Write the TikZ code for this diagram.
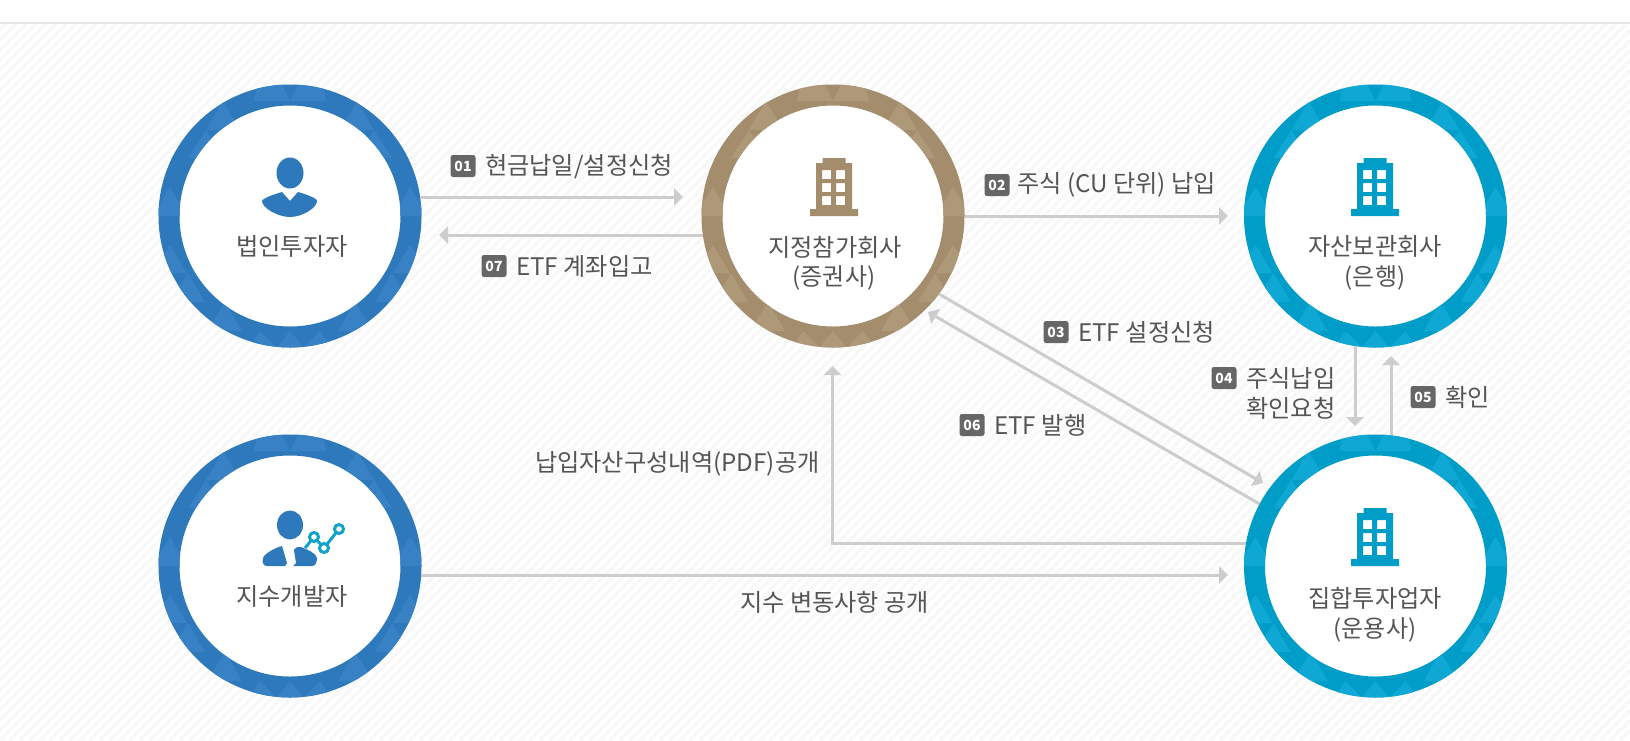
\documentclass[tikz,border=0pt]{standalone}
\usepackage{fontspec}
\setmainfont{Noto Sans CJK KR}
\usetikzlibrary{arrows.meta}
\definecolor{txt}{HTML}{555555}
\definecolor{arrowgray}{HTML}{CDCDCD}
\definecolor{hatchgray}{HTML}{F8F8F8}
\definecolor{topline}{HTML}{E6E6E6}
\definecolor{badgegray}{HTML}{666666}
\definecolor{bluedark}{HTML}{2E78BC}
\definecolor{bluelight}{HTML}{3781C4}
\definecolor{tandark}{HTML}{A38D6D}
\definecolor{tanlight}{HTML}{AD9878}
\definecolor{cyandark}{HTML}{009DC9}
\definecolor{cyanlight}{HTML}{0FA7D3}
\definecolor{chain}{HTML}{12A3C9}
\tikzset{
  x=1pt,y=-1pt,
  ringnode/.style={circle,draw=#1,fill=white,line width=21pt,minimum size=242pt,inner sep=0pt},
  conn/.style={draw=arrowgray,line width=3pt,-{Triangle[length=9pt,width=17pt]}},
  mainlabel/.style={inner sep=0pt,text=txt,font=\fontsize{24.2}{28}\selectfont},
  sublabel/.style={inner sep=0pt,text=txt,font=\fontsize{24}{28}\selectfont},
  arrowlabel/.style={inner sep=0pt,text=txt,anchor=west,font=\fontsize{24.2}{28}\selectfont},
  badge/.style={fill=badgegray,rounded corners=2.5pt,text=white,inner sep=0pt,minimum width=25pt,minimum height=22pt,font=\fontsize{14}{15}\bfseries\selectfont},
}
\newcommand{\ringdeco}[2]{% centre, light colour
  \begin{scope}[shift={(#1)},even odd rule]
    \clip (0,0) circle[radius=131.5] (0,0) circle[radius=110.5];
    \foreach \s in {1,-1}{
      \fill[#2,xscale=\s] (0,-115)--(10,-135)--(32,-135)--(36,-115)--cycle;
      \fill[#2,xscale=\s] (-67,-115)--(-84,-86)--(-50,-86)--cycle;
      \fill[#2,xscale=\s] (-84,-86)--(-102,-58)--(-66,-58)--cycle;
      \fill[#2,xscale=\s] (-120,-29)--(-138,0)--(-103,0)--cycle;
      \fill[#2,xscale=\s] (-120,29)--(-138,57)--(-103,57)--cycle;
      \fill[#2,xscale=\s] (-102,57)--(-120,86)--(-85,86)--cycle;
      \fill[#2,xscale=\s] (-65,86)--(-83,115)--(-48,115)--cycle;
      \fill[#2,xscale=\s] (-30,115)--(-44,135)--(-10,135)--cycle;
    }
    \fill[#2] (0,115)--(-15,133)--(15,133)--cycle;
  \end{scope}
}
\newcommand{\buildingicon}[2]{% base centre, colour
  \begin{scope}[shift={(#1)}]
    \fill[#2,even odd rule]
      (-11.5,-58)--(11.5,-58)--(11.5,-53)--(18,-53)--(18,-7)--(24,-7)--(24,0)--(-24,0)--(-24,-7)--(-18,-7)--(-18,-53)--(-11.5,-53)--cycle
      (-12,-46) rectangle (-3,-37) (2,-46) rectangle (11,-37)
      (-12,-33) rectangle (-3,-24) (2,-33) rectangle (11,-24)
      (-12,-20) rectangle (-3,-11) (2,-20) rectangle (11,-11);
  \end{scope}
}
\begin{document}
\begin{tikzpicture}
\useasboundingbox (0,0) rectangle (1630,740);
\fill[white] (0,0) rectangle (1630,740);
% hatched background
\begin{scope}
  \clip (0,23) rectangle (1630,740);
  \foreach \i in {-720,-710,...,1630}{
    \draw[hatchgray,line width=3.5pt] (\i,740) -- ({\i+717},23);
  }
\end{scope}
\fill[topline] (0,22) rectangle (1630,23.5);

% circles
\node[ringnode=bluedark] (c1) at (290,216) {};
\node[ringnode=tandark] (c2) at (833,216) {};
\node[ringnode=cyandark] (c3) at (1375.5,216) {};
\node[ringnode=bluedark] (c5) at (290,566) {};
\node[ringnode=cyandark] (c4) at (1375.5,566) {};
\ringdeco{290,216}{bluelight}
\ringdeco{833,216}{tanlight}
\ringdeco{1375.5,216}{cyanlight}
\ringdeco{290,566}{bluelight}
\ringdeco{1375.5,566}{cyanlight}

% icons
\begin{scope}[shift={(290,216)}]
  \fill[bluedark] (0,-43) ellipse[x radius=13.5,y radius=15.5];
  \fill[bluedark] (-28,-15) .. controls (-27,-18) and (-15,-22) .. (-8,-24) -- (0,-15) -- (8,-24)
     .. controls (15,-22) and (27,-18) .. (27,-15) .. controls (27,-8) and (12,1) .. (0,1)
     .. controls (-12,1) and (-28,-8) .. (-28,-15) -- cycle;
\end{scope}
\begin{scope}[shift={(290,566)}]
  \fill[bluedark] (0,-41) ellipse[x radius=13,y radius=14.5];
  \fill[bluedark] (-27,-8) .. controls (-25,-13) and (-15,-18) .. (-8,-20) -- (-3,-3) -- (-5,0) -- (-23,0) .. controls (-27,0) and (-28,-4) .. (-27,-8) -- cycle;
  \fill[bluedark] (4,-16) .. controls (6,-19) and (9,-20) .. (11,-19) .. controls (18,-16) and (26,-13) .. (27,-8) .. controls (27,-3) and (25,0) .. (22,0) -- (3,0) -- (6,-3) -- cycle;
  \draw[chain,line width=3pt,line join=round] (15,-18) -- (24,-29) -- (34,-18) -- (49,-37);
  \foreach \p in {(24,-29),(34,-18),(49,-37)}{
    \draw[chain,fill=white,line width=3pt] \p circle[radius=4.5];
  }
\end{scope}
\buildingicon{834,216}{tandark}
\buildingicon{1375,216}{cyandark}
\buildingicon{1375,566}{cyandark}

% circle labels
\node[mainlabel] (t1) at (292,246) {법인투자자};
\node[mainlabel] (t2) at (835,247) {지정참가회사};
\node[sublabel] (t2b) at (834,278) {(증권사)};
\node[mainlabel] (t3) at (1375,246) {자산보관회사};
\node[sublabel] (t3b) at (1375,278) {(은행)};
\node[mainlabel] (t5) at (292,596) {지수개발자};
\node[mainlabel] (t4) at (1375,598) {집합투자업자};
\node[sublabel] (t4b) at (1375,630) {(운용사)};

% free ends
\coordinate (tip1) at (683,197);
\coordinate (tip7) at (439,235);
\coordinate (tip2) at (1228,216);
\coordinate (tip3) at (1263,483);
\coordinate (tip6) at (928,312);
\coordinate (tip4) at (1355,426);
\coordinate (tip5) at (1391,356);
\coordinate (tipP) at (832.5,366);
\coordinate (bend) at (832.5,543);
\coordinate (tipI) at (1228,575);

% connectors
\draw[conn] ([shift={(130.2,-19)}]c1.center) -- (tip1);
\draw[conn] ([shift={(-130.2,19)}]c2.center) -- (tip7);
\draw[conn] (c2.east) -- (tip2);
\draw[conn] ([shift={(106,78)}]c2.center) -- (tip3);
\draw[conn] ([shift={(-116,-62)}]c4.center) -- (tip6);
\draw[conn] ([shift={(-20.5,129.9)}]c3.center) -- (tip4);
\draw[conn] ([shift={(15.5,-130.6)}]c4.center) -- (tip5);
\draw[conn] ([shift={(-129.5,-23)}]c4.center) -- (bend) -- (tipP);
\draw[conn] ([shift={(131.2,9)}]c5.center) -- (tipI);

% arrow labels
\node[badge] (b1) at (463,166) {01};
\node[arrowlabel] (l1) at (485,167) {현금납일/설정신청};
\node[badge] (b7) at (494,266) {07};
\node[arrowlabel] (l7) at (516,266) {ETF 계좌입고};
\node[badge] (b2) at (997,185) {02};
\node[arrowlabel] (l2) at (1017,185) {주식 (CU 단위) 납입};
\node[badge] (b3) at (1056,332) {03};
\node[arrowlabel] (l3) at (1078,332) {ETF 설정신청};
\node[badge] (b6) at (972,425) {06};
\node[arrowlabel] (l6) at (994,425) {ETF 발행};
\node[badge] (b4) at (1224,378) {04};
\node[arrowlabel] (l4a) at (1246,378) {주식납입};
\node[arrowlabel] (l4b) at (1246,408) {확인요청};
\node[badge] (b5) at (1423,397) {05};
\node[arrowlabel] (l5) at (1445,397) {확인};
\node[arrowlabel] (lp) at (535,464) {납입자산구성내역(PDF)공개};
\node[arrowlabel] (li) at (740,602) {지수 변동사항 공개};
\end{tikzpicture}
\end{document}
